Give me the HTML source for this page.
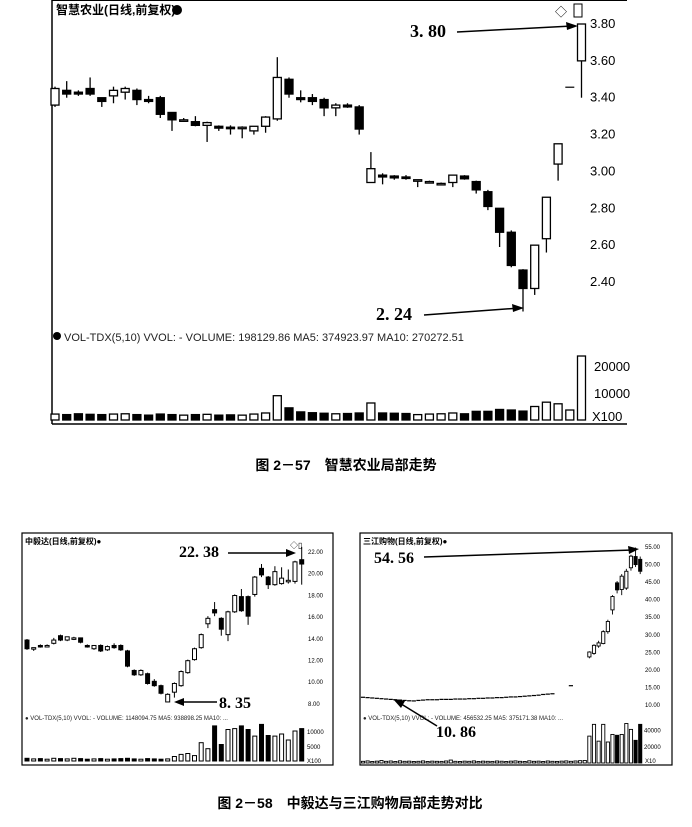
<!DOCTYPE html>
<html><head><meta charset="utf-8">
<style>
html,body{margin:0;padding:0;background:#fff;}
body{width:692px;height:822px;overflow:hidden;font-family:"Liberation Sans","Noto Sans CJK SC",sans-serif;}
svg text{font-family:"Liberation Sans","Noto Sans CJK SC",sans-serif;}
svg text.ann{font-family:"Liberation Serif",serif;}
</style></head>
<body>
<svg id="svg" width="692" height="822" viewBox="0 0 692 822" xmlns="http://www.w3.org/2000/svg">
  <g>
    <line x1="52" y1="0" x2="52" y2="424" stroke="#000" stroke-width="1.5"/>
    <line x1="52" y1="424" x2="627" y2="424" stroke="#000" stroke-width="1.5"/>
    <line x1="52" y1="0.5" x2="627" y2="0.5" stroke="#000" stroke-width="1"/>
    <text x="56" y="14" font-size="12" font-weight="bold">智慧农业(日线,前复权)</text>
    <circle cx="177" cy="10" r="5" fill="#000"/>
    <text x="555" y="16" font-size="12">◇</text>
    <rect x="574" y="4" width="8" height="13" fill="none" stroke="#000"/>
    <circle cx="57" cy="336" r="4" fill="#000"/>
    <text x="64" y="341" font-size="11" fill="#222">VOL-TDX(5,10) VVOL: -  VOLUME: 198129.86  MA5: 374923.97  MA10: 270272.51</text>
    <text class="ann" x="376" y="320" font-size="18" font-weight="bold">2. 24</text>
    <line x1="424" y1="315" x2="520" y2="308" stroke="#000" stroke-width="1.5"/>
    <polygon points="524,308 512,304 513,312" fill="#000"/>
    <text class="ann" x="410" y="37" font-size="18" font-weight="bold">3. 80</text>
    <line x1="457" y1="32" x2="572" y2="26" stroke="#000" stroke-width="1.5"/>
    <polygon points="578,26 566,22 567,30" fill="#000"/>
    <g id="top"></g>
  </g>
  <text x="346" y="470" font-size="14" font-weight="bold" text-anchor="middle">图 2－57　智慧农业局部走势</text>

  <g>
    <rect x="22" y="533" width="311" height="232" fill="none" stroke="#000" stroke-width="1.2"/>
    <text x="25" y="544" font-size="8" font-weight="bold">中毅达(日线,前复权)●</text>
    <text x="290" y="548" font-size="8">◇▯</text>
    <text x="25" y="720" font-size="6" fill="#222">● VOL-TDX(5,10) VVOL: -  VOLUME: 1148094.75  MA5: 938898.25  MA10: ...</text>
    <text class="ann" x="179" y="557" font-size="16" font-weight="bold">22. 38</text>
    <line x1="228" y1="553" x2="290" y2="553" stroke="#000" stroke-width="1.5"/>
    <polygon points="296,553 286,549 286,557" fill="#000"/>
    <text class="ann" x="219" y="708" font-size="16" font-weight="bold">8. 35</text>
    <line x1="217" y1="702" x2="180" y2="702" stroke="#000" stroke-width="1.5"/>
    <polygon points="174,702 184,698 184,706" fill="#000"/>
    <g id="left"></g>
  </g>

  <g>
    <rect x="360" y="533" width="312" height="232" fill="none" stroke="#000" stroke-width="1.2"/>
    <text x="363" y="544" font-size="8" font-weight="bold">三江购物(日线,前复权)●</text>
    <text x="363" y="720" font-size="6" fill="#222">● VOL-TDX(5,10) VVOL: -  VOLUME: 456532.25  MA5: 375171.38  MA10: ...</text>
    <text class="ann" x="374" y="563" font-size="16" font-weight="bold">54. 56</text>
    <line x1="424" y1="557" x2="633" y2="550" stroke="#000" stroke-width="1.5"/>
    <polygon points="639,549 628,546 629,554" fill="#000"/>
    <text class="ann" x="436" y="737" font-size="16" font-weight="bold">10. 86</text>
    <line x1="437" y1="726" x2="398" y2="702" stroke="#000" stroke-width="1.5"/>
    <polygon points="393,699 401,708 405,701" fill="#000"/>
    <g id="right"></g>
  </g>
  <text x="350" y="808" font-size="14" font-weight="bold" text-anchor="middle">图 2－58　中毅达与三江购物局部走势对比</text>
</svg>
<script>
const topOpen  = [3.36,3.44,3.43,3.45,3.40,3.41,3.43,3.44,3.39,3.40,3.32,3.28,3.27,3.25,3.245,3.24,3.24,3.22,3.245,3.285,3.50,3.40,3.40,3.39,3.345,3.36,3.35,2.94,2.98,2.975,2.97,2.955,2.945,2.935,2.94,2.975,2.945,2.89,2.80,2.67,2.465,2.365,2.635,3.04,3.457,3.60];
const topClose = [3.45,3.42,3.42,3.42,3.38,3.44,3.45,3.39,3.38,3.31,3.28,3.28,3.25,3.265,3.235,3.235,3.24,3.245,3.295,3.51,3.42,3.39,3.38,3.345,3.36,3.35,3.23,3.015,2.97,2.965,2.965,2.955,2.945,2.935,2.98,2.96,2.90,2.81,2.67,2.49,2.365,2.60,2.86,3.15,3.457,3.80];
const topHigh  = [3.46,3.49,3.44,3.51,3.40,3.46,3.46,3.45,3.41,3.41,3.32,3.29,3.30,3.27,3.25,3.25,3.245,3.245,3.30,3.62,3.51,3.44,3.42,3.40,3.37,3.37,3.36,3.105,2.99,2.98,2.98,2.955,2.95,2.94,2.98,2.98,2.95,2.90,2.80,2.68,2.47,2.60,2.86,3.15,3.457,3.80];
const topLow   = [3.35,3.40,3.41,3.41,3.35,3.37,3.39,3.36,3.37,3.29,3.22,3.27,3.245,3.16,3.22,3.20,3.18,3.20,3.21,3.275,3.40,3.375,3.36,3.30,3.30,3.345,3.20,2.94,2.93,2.955,2.955,2.915,2.935,2.925,2.915,2.955,2.88,2.79,2.59,2.48,2.24,2.33,2.56,2.95,3.457,3.40];
const topVol   = [2200,2000,2300,2100,2000,2200,2300,2000,1800,2200,2000,1800,2000,2100,1800,1900,1800,2200,2600,9000,4500,3000,2700,2500,2300,2400,2600,6300,2600,2500,2400,2000,2200,2300,2600,2300,3200,3200,3900,3700,3300,5000,6600,6000,3700,23700];
const topPriceTicks = ["3.80","3.60","3.40","3.20","3.00","2.80","2.60","2.40"];
const topVolTicks = ["20000","10000"];

const lOpen  = [13.8,13.0,13.3,13.3,13.5,14.2,13.8,14.0,14.0,13.3,13.0,13.3,12.9,13.3,13.3,12.8,11.0,10.6,10.7,10.0,9.6,8.1,9.0,9.6,10.8,12.0,13.1,15.3,16.6,15.8,14.3,16.4,17.8,17.8,18.0,20.4,19.6,18.9,19.0,19.3,19.2,21.2];
const lClose = [13.0,13.1,13.2,13.3,13.8,13.8,14.1,14.0,13.6,13.2,13.3,12.8,13.2,13.1,12.9,11.4,10.6,11.0,9.8,9.6,8.9,8.8,9.8,10.9,11.9,13.0,14.3,15.8,16.3,14.8,16.4,17.9,16.5,16.0,19.6,19.8,18.9,20.1,19.5,19.3,21.0,20.8];
const lHigh  = [13.9,13.1,13.4,13.4,14.0,14.3,14.1,14.1,14.0,13.4,13.3,13.4,13.3,13.5,13.4,12.9,11.1,11.1,10.8,10.2,9.7,8.9,9.9,11.0,12.0,13.1,14.4,16.0,17.3,15.9,16.5,18.0,18.5,17.9,19.7,20.8,19.7,20.6,20.5,20.3,21.1,22.38];
const lLow   = [12.9,12.8,13.1,13.2,13.4,13.7,13.7,13.8,13.5,13.1,12.9,12.7,12.8,13.0,12.8,11.3,10.5,10.5,9.7,9.5,8.8,8.35,8.5,9.5,10.7,11.9,13.0,14.9,16.0,14.2,13.7,16.3,16.4,15.2,17.8,19.6,18.5,18.8,18.9,19.0,19.0,18.9];
const lVol   = [900,700,800,600,900,800,700,900,800,600,700,800,600,700,800,900,700,600,800,700,600,700,1500,2200,2500,1800,6100,4100,11700,5500,10500,10800,11700,10500,8300,12200,8500,8300,9000,7000,10000,10800];
const lPriceTicks = ["22.00","20.00","18.00","16.00","14.00","12.00","10.00","8.00"];
const lVolTicks = ["10000","5000"];

const rClose = [11.9,11.8,11.7,11.6,11.5,11.4,11.3,11.2,11.1,11.0,10.9,10.86,11.0,11.1,11.2,11.2,11.2,11.3,11.3,11.3,11.4,11.4,11.4,11.5,11.5,11.6,11.6,11.7,11.7,11.8,11.8,11.9,12.0,12.0,12.1,12.2,12.3,12.4,12.5,12.7,12.8,12.9,null,null,null,15.2,null,null,null,24.8,26.7,27.4,30.6,33.5,40.6,42.5,46.4,47.8,52.1,49.7,47.8];
const rOpen  = [11.9,11.8,11.7,11.6,11.5,11.4,11.3,11.2,11.1,11.0,10.9,10.86,11.0,11.1,11.2,11.2,11.2,11.3,11.3,11.3,11.4,11.4,11.4,11.5,11.5,11.6,11.6,11.7,11.7,11.8,11.8,11.9,12.0,12.0,12.1,12.2,12.3,12.4,12.5,12.7,12.8,12.9,null,null,null,15.2,null,null,null,23.4,24.4,26.5,27.2,30.6,36.8,44.5,42.6,43.0,48.8,52.0,51.2];
const rHigh  = [11.9,11.8,11.7,11.6,11.5,11.4,11.3,11.2,11.1,11.0,10.9,10.86,11.0,11.1,11.2,11.2,11.2,11.3,11.3,11.3,11.4,11.4,11.4,11.5,11.5,11.6,11.6,11.7,11.7,11.8,11.8,11.9,12.0,12.0,12.1,12.2,12.3,12.4,12.5,12.7,12.8,12.9,null,null,null,15.2,null,null,null,25.0,27.0,28.0,31.0,34.0,41.0,45.0,47.0,48.5,52.5,54.56,52.0];
const rLow   = [11.9,11.8,11.7,11.6,11.5,11.4,11.3,11.2,11.1,11.0,10.9,10.86,11.0,11.1,11.2,11.2,11.2,11.3,11.3,11.3,11.4,11.4,11.4,11.5,11.5,11.6,11.6,11.7,11.7,11.8,11.8,11.9,12.0,12.0,12.1,12.2,12.3,12.4,12.5,12.7,12.8,12.9,null,null,null,15.2,null,null,null,23.0,24.0,26.0,27.0,30.0,35.5,41.5,41.0,42.5,48.0,49.0,47.0];
const rVol   = [2000,2500,1800,2200,3000,2000,2400,1800,2600,2000,2200,1800,2000,2500,1800,2200,2000,1900,2400,3500,2000,1800,2200,2000,2500,1800,2200,2000,1900,2400,2100,1800,2200,2500,2000,1800,2600,2000,2200,1800,2400,2000,1900,2200,2500,2000,2400,2800,3000,32000,46000,26000,46000,25000,34000,33000,34000,47000,40000,27000,46000];
const rPriceTicks = ["55.00","50.00","45.00","40.00","35.00","30.00","25.00","20.00","15.00","10.00"];
const rVolTicks = ["40000","20000"];

const NS = "http://www.w3.org/2000/svg";
function mk(parent, tag, attrs){const e=document.createElementNS(NS,tag);for(const k in attrs)e.setAttribute(k,attrs[k]);parent.appendChild(e);return e;}

function drawCandles(g, O,H,L,C,V, xf, yf, vy, vBase, w, sw){
  for(let i=0;i<C.length;i++){
    const x=xf(i);
    if(C[i]!==null){
      const up=C[i]>=O[i];
      if(H[i]===L[i]){
        const dash=mk(g,'line',{x1:x-w/2-0.5,x2:x+w/2+0.5,y1:yf(C[i]),y2:yf(C[i]),stroke:'#000','stroke-width':1.2});
        
        
      } else {
        const wick=mk(g,'line',{x1:x,x2:x,y1:yf(H[i]),y2:yf(L[i]),stroke:'#000','stroke-width':sw});
        
        
        const t=yf(Math.max(O[i],C[i])), b=yf(Math.min(O[i],C[i]));
        const body=mk(g,'rect',{x:x-w/2,y:t,width:w,height:Math.max(b-t,1.5),fill:up?'#fff':'#000',stroke:'#000','stroke-width':sw});
        
        
      }
    }
    const vt=vy(V[i]);
    const up=C[i]===null||C[i]>=O[i];
    const bar=mk(g,'rect',{x:x-w/2,y:vt,width:w,height:vBase-vt,fill:up?'#fff':'#000',stroke:'#000','stroke-width':sw});
    
    
  }
}
function drawTicks(g, labels, x, y0, step, fs){
  labels.forEach((s,i)=>{
    const t=mk(g,'text',{x:x,y:y0+i*step,'font-size':fs});
    t.textContent=s;
    
    
  });
}

(function(){
  const g=document.getElementById('top');
  const xf=i=>55+i*11.7;
  const yf=p=>24+(3.80-p)*184.3;
  const vy=v=>420-v*0.0027;
  drawCandles(g,topOpen,topHigh,topLow,topClose,topVol,xf,yf,vy,420,8,1.3);
  drawTicks(g,topPriceTicks,590,yf(3.80)+4,36.86,13);
  drawTicks(g,topVolTicks,594,vy(20000)+5,27,13);
  const t=mk(g,'text',{x:592,y:421,'font-size':13});t.textContent='X100';
  
  
})();
(function(){
  const g=document.getElementById('left');
  const xf=i=>27+i*6.7;
  const yf=p=>551+(22-p)*10.86;
  const vy=v=>761-v*0.003;
  drawCandles(g,lOpen,lHigh,lLow,lClose,lVol,xf,yf,vy,761,4,1);
  drawTicks(g,lPriceTicks,308,yf(22)+3,21.7,6);
  drawTicks(g,lVolTicks,307,vy(10000)+3,15,6);
  const t=mk(g,'text',{x:307,y:763,'font-size':6});t.textContent='X100';
  
  
})();
(function(){
  const g=document.getElementById('right');
  const xf=i=>363+i*4.62;
  const yf=p=>546+(55-p)*3.51;
  const vy=v=>763-v*0.00084;
  drawCandles(g,rOpen,rHigh,rLow,rClose,rVol,xf,yf,vy,763,3.2,0.9);
  drawTicks(g,rPriceTicks,645,yf(55)+3,17.55,6);
  drawTicks(g,rVolTicks,644,vy(40000)+3,16.8,6);
  const t=mk(g,'text',{x:645,y:763,'font-size':6});t.textContent='X10';
  
  
})();
</script>
</body></html>
